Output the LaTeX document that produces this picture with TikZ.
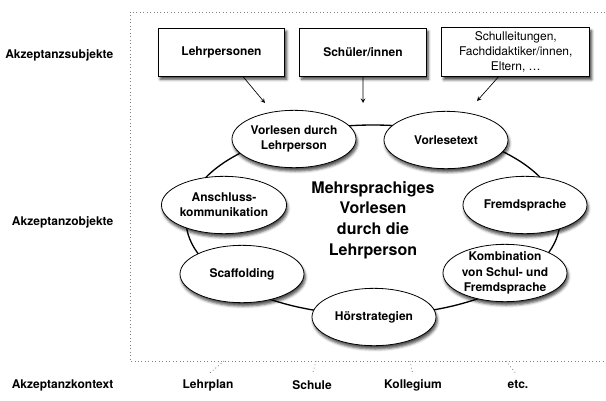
\documentclass[tikz,border=0pt]{standalone}
\usepackage{fontspec}
\setmainfont{TeX Gyre Heros}
\usetikzlibrary{positioning,shapes.geometric,shadows.blur}
\tikzset{%
  onearrow/.style = {-stealth,line width=0.5pt},
  dotline/.style = {dotted,gray,line width=0.6pt},
  r/.style = {rectangle,draw,fill=white,line width=0.6pt,minimum width=95pt,
        minimum height=36pt,font=\bfseries\fontsize{9}{11}\selectfont,
        blur shadow={shadow xshift=1.5pt,shadow yshift=-2.5pt,shadow blur radius=2pt,shadow opacity=75}},
  el/.style = {ellipse,draw,fill=white,line width=0.6pt,inner sep=0pt,minimum width=93pt,
        minimum height=43pt,font=\bfseries\fontsize{9}{11.5}\selectfont,
        blur shadow={shadow xshift=1pt,shadow yshift=-2.5pt,shadow blur radius=2pt,shadow opacity=70}},
  lab/.style = {font=\bfseries\fontsize{9}{11}\selectfont}
}

\begin{document}
\begin{tikzpicture}[
x=0.75pt,y=-0.75pt,
every text node part/.style={align=center}
]
\useasboundingbox (0,0) rectangle (606,400);
% Rahmen
\draw[dotline] (605,12) -| (130,361) -- (605,361);
% Zeilen links
\node[lab,anchor=east] (subj) at (118,55) {Akzeptanzsubjekte};
\node[lab,anchor=east] (obj) at (118,222) {Akzeptanzobjekte};
\node[lab,anchor=east] (kont) at (118,385) {Akzeptanzkontext};
% Subjekte
\node[r] (lehrer) at (221.5,52) {Lehrpersonen};
\node[r,right=10.5pt of lehrer] (schueler) {Schüler/innen};
\node[r,right=11pt of schueler,minimum width=111pt,font=\fontsize{9}{11}\selectfont]
    (andere) {Schulleitungen,\\Fachdidaktiker/innen,\\Eltern, \dots};
% Objekte
\node[ellipse,draw,line width=1pt,minimum width=280.5pt,minimum height=142.5pt,
    font=\bfseries\fontsize{12}{15.5}\selectfont] (ring) at (373,220)
    {Mehrsprachiges\\Vorlesen\\durch die\\Lehrperson};
\node[el] (vorlesen) at (294,139) {Vorlesen durch\\Lehrperson};
\node[el] (text) at (446,140) {Vorlesetext};
\node[el] (anschluss) at (224,205) {Anschluss-\\kommunikation};
\node[el] (fremd) at (525,205) {Fremdsprache};
\node[el] (scaff) at (242,274) {Scaffolding};
\node[el,inner ysep=-5pt] (kombi) at (505,273)
    {Kombination\\von Schul- und\\Fremdsprache};
\node[el] (hoer) at (374,317) {Hörstrategien};
% Pfeile
\coordinate (p1) at (265,103);
\coordinate (p2) at (363,103);
\coordinate (p3) at (477,101);
\draw[onearrow] ([xshift=16pt]lehrer.south) -- (p1);
\draw[onearrow] (schueler.south) -- (p2);
\draw[onearrow] ([xshift=-13pt]andere.south) -- (p3);
% Kontext
\node[lab] (plan) at (208,385) {Lehrplan};
\node[lab] (schule) at (312,385) {Schule};
\node[lab] (koll) at (413,385) {Kollegium};
\node[lab] (etc) at (518,385) {etc.};
\coordinate (k1) at (224,361);
\coordinate (k2) at (316,361);
\coordinate (k3) at (410,361);
\coordinate (k4) at (506,361);
\draw[dotline,shorten >=2pt] (k1) -- (plan.north);
\draw[dotline,shorten >=2pt] (k2) -- (schule.north);
\draw[dotline,shorten >=2pt] (k3) -- (koll.north);
\draw[dotline,shorten >=2pt] (k4) -- (etc.north);
\end{tikzpicture}
\end{document}
